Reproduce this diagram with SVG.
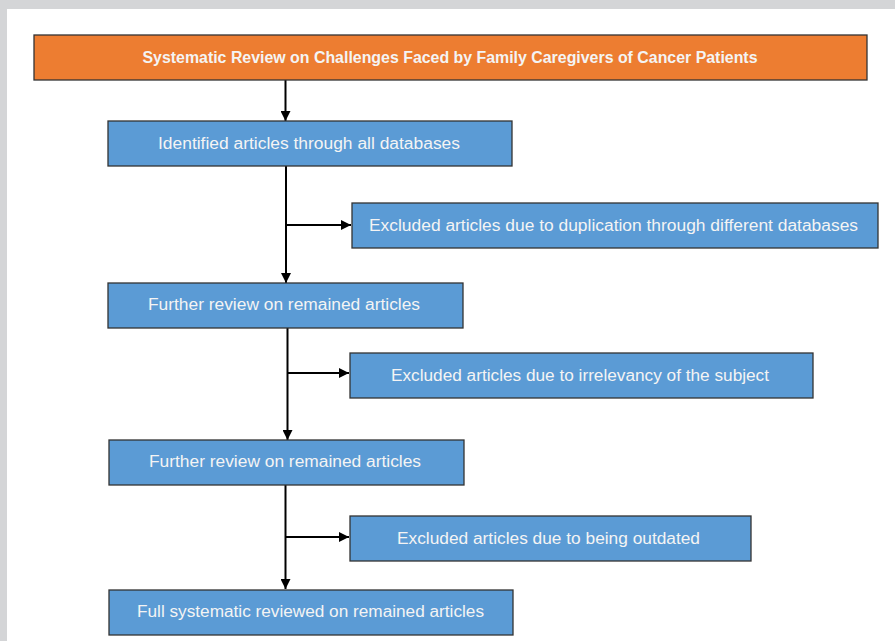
<svg xmlns="http://www.w3.org/2000/svg" width="895" height="641" viewBox="0 0 895 641">
<defs>
<style>
.box{fill:#5b9bd5;stroke:#333;stroke-width:1.3}
.org{fill:#ed7d31;stroke:#333;stroke-width:1.3}
.t{font-family:"Liberation Sans",Arial,sans-serif;font-size:16px;fill:#f4f4f4}
.tb{font-weight:bold}
.c{stroke:#000;stroke-width:2;fill:none}
</style>
<marker id="ah" viewBox="0 0 10 10" refX="10" refY="5" markerWidth="5.5" markerHeight="5" markerUnits="strokeWidth" orient="auto">
<path d="M0,0 L10,5 L0,10 z" fill="#000"/>
</marker>
</defs>
<rect x="0" y="0" width="895" height="641" fill="#d4d5d7"/>
<rect x="7" y="9" width="888" height="632" fill="#fff"/>
<g id="connectors">
<line class="c" x1="285.5" y1="80" x2="285.5" y2="121" marker-end="url(#ah)"/>
<line class="c" x1="286" y1="166" x2="286" y2="283" marker-end="url(#ah)"/>
<line class="c" x1="286" y1="225" x2="351" y2="225" marker-end="url(#ah)"/>
<line class="c" x1="287.5" y1="328" x2="287.5" y2="440" marker-end="url(#ah)"/>
<line class="c" x1="287.5" y1="373" x2="349" y2="373" marker-end="url(#ah)"/>
<line class="c" x1="285.5" y1="485" x2="285.5" y2="589" marker-end="url(#ah)"/>
<line class="c" x1="286" y1="537" x2="349" y2="537" marker-end="url(#ah)"/>
</g>
<g id="title">
<rect class="org" x="34" y="35" width="833" height="45"/>
<text class="t tb" x="450" y="63" text-anchor="middle" textLength="615" lengthAdjust="spacingAndGlyphs">Systematic Review on Challenges Faced by Family Caregivers of Cancer Patients</text>
</g>
<g id="identified">
<rect class="box" x="108" y="121" width="404" height="45"/>
<text class="t" x="309" y="149" text-anchor="middle" textLength="302" lengthAdjust="spacingAndGlyphs">Identified articles through all databases</text>
</g>
<g id="excl-dup">
<rect class="box" x="352" y="203" width="526" height="45"/>
<text class="t" x="613.5" y="231" text-anchor="middle" textLength="489" lengthAdjust="spacingAndGlyphs">Excluded articles due to duplication through different databases</text>
</g>
<g id="review1">
<rect class="box" x="108" y="283" width="355" height="45"/>
<text class="t" x="284" y="310" text-anchor="middle" textLength="272" lengthAdjust="spacingAndGlyphs">Further review on remained articles</text>
</g>
<g id="excl-irr">
<rect class="box" x="350" y="353" width="463" height="45"/>
<text class="t" x="580" y="381" text-anchor="middle" textLength="378" lengthAdjust="spacingAndGlyphs">Excluded articles due to irrelevancy of the subject</text>
</g>
<g id="review2">
<rect class="box" x="109" y="440" width="355" height="45"/>
<text class="t" x="285" y="467" text-anchor="middle" textLength="272" lengthAdjust="spacingAndGlyphs">Further review on remained articles</text>
</g>
<g id="excl-old">
<rect class="box" x="350" y="516" width="401" height="45"/>
<text class="t" x="548.5" y="544" text-anchor="middle" textLength="303" lengthAdjust="spacingAndGlyphs">Excluded articles due to being outdated</text>
</g>
<g id="full">
<rect class="box" x="109" y="590" width="404" height="45"/>
<text class="t" x="310.5" y="617" text-anchor="middle" textLength="347" lengthAdjust="spacingAndGlyphs">Full systematic reviewed on remained articles</text>
</g>
</svg>
